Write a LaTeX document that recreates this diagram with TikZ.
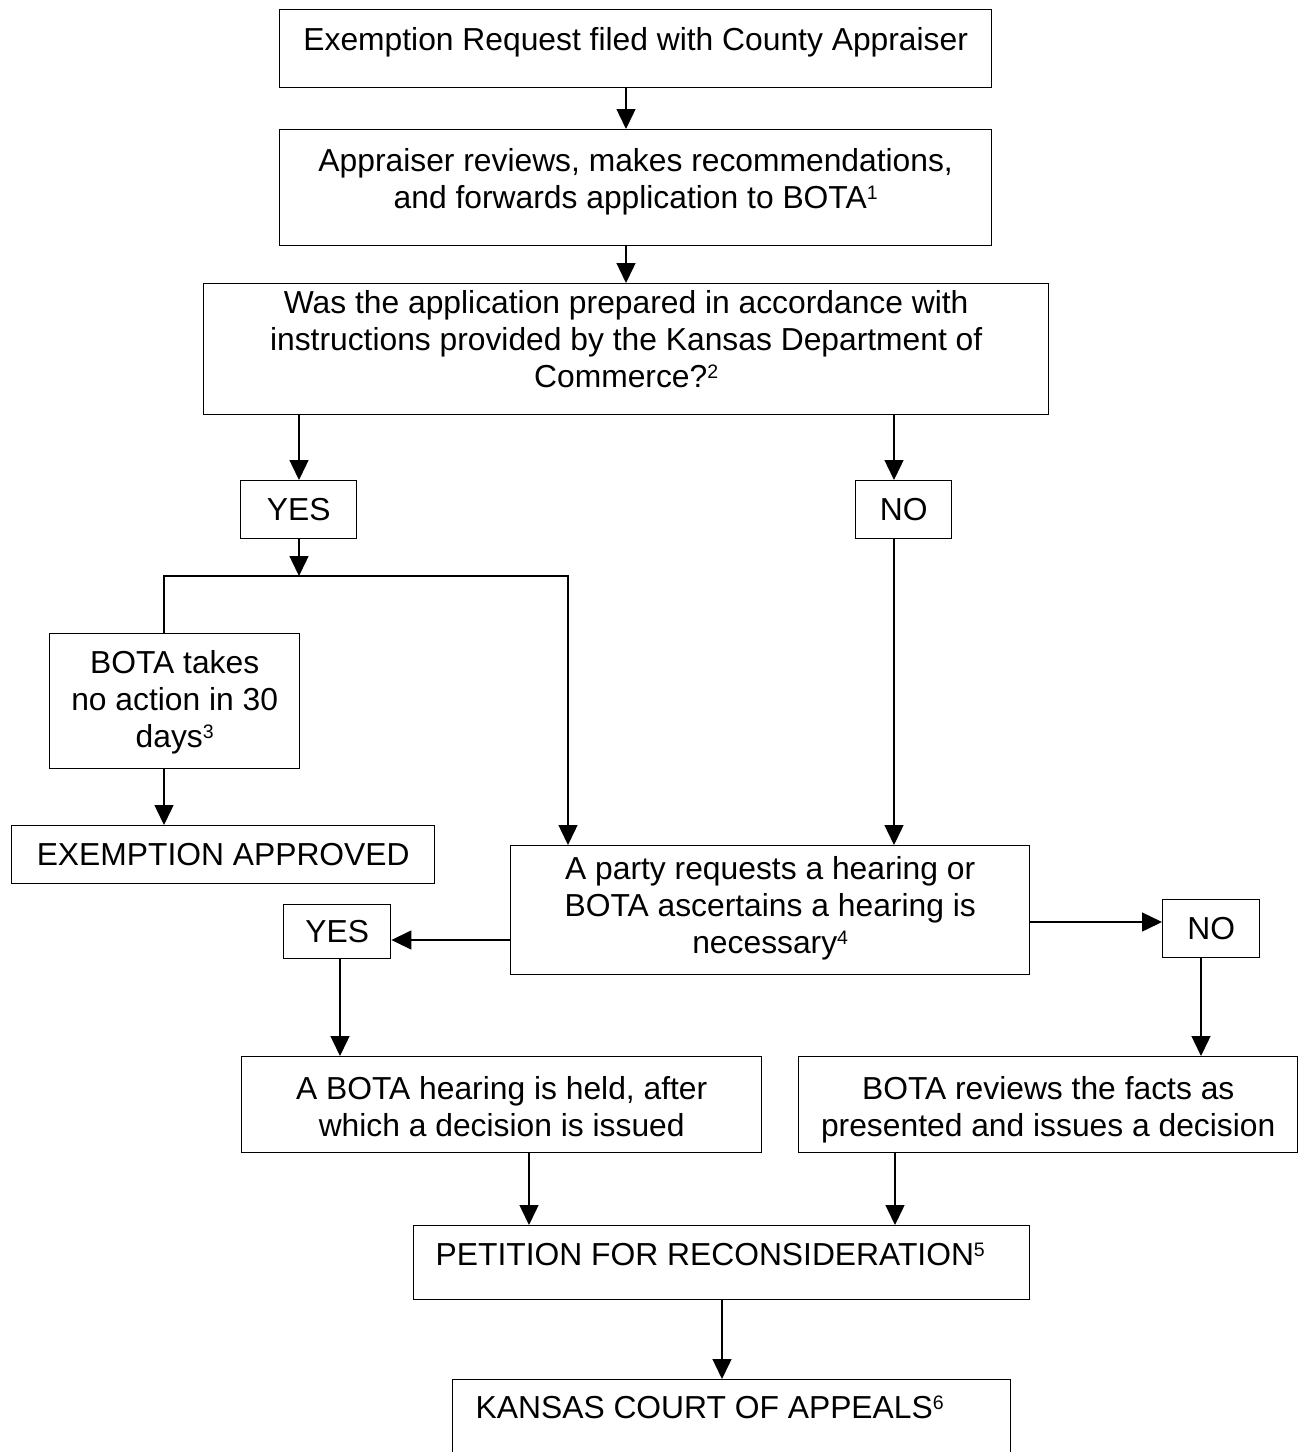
\documentclass[tikz,border=0pt]{standalone}
\usepackage{fontspec}
\setmainfont{Liberation Sans}
\usetikzlibrary{arrows.meta}
\newcommand\supnum[1]{\raisebox{9pt}{\fontsize{19.5}{19.5}\selectfont #1}}
\newcommand\ctext[2]{\parbox[t]{#1}{\centering #2}}
\newcommand\ltext[3]{\parbox[t]{#1}{\raggedright\hspace*{#2}#3}}
\begin{document}
\begin{tikzpicture}[x=1pt,y=-1pt,
  box/.style={draw, line width=1.4pt, inner sep=0pt, anchor=north west,
    font=\fontsize{31.8}{36.8}\selectfont},
  arr/.style={line width=1.4pt, -{Triangle[length=20pt,width=19pt]}},
  conn/.style={line width=1.4pt}]
\fill[white] (0,0) rectangle (1298,1452);
\clip (0,0) rectangle (1298,1452);

% boxes
\node[box, minimum width=712pt, minimum height=78pt, text height=41pt, text depth=37pt] (b1) at (279,9)
  {\ctext{700pt}{Exemption Request filed with County Appraiser}};
\node[box, minimum width=712pt, minimum height=116pt, text height=42pt, text depth=74pt] (b2) at (279,129)
  {\ctext{700pt}{Appraiser reviews, makes recommendations,\\ and forwards application to BOTA\supnum{1}}};
\node[box, minimum width=845pt, minimum height=131pt, text height=30pt, text depth=101pt] (b3) at (203,283)
  {\ctext{835pt}{Was the application prepared in accordance with\\ instructions provided by the Kansas Department of\\ Commerce?\supnum{2}}};
\node[box, minimum width=116pt, minimum height=58pt, text height=40pt, text depth=18pt] (yes1) at (240,480) {YES};
\node[box, minimum width=96pt, minimum height=58pt, text height=40pt, text depth=18pt] (no1) at (855,480) {NO};
\node[box, minimum width=250pt, minimum height=135pt, text height=40pt, text depth=95pt] (b6) at (49,633)
  {\ctext{244pt}{BOTA takes\\ no action in 30\\ days\supnum{3}}};
\node[box, minimum width=423pt, minimum height=58pt, text height=40pt, text depth=18pt] (b7) at (11,825)
  {EXEMPTION APPROVED};
\node[box, minimum width=519pt, minimum height=129pt, text height=34pt, text depth=95pt] (b8) at (510,845)
  {\ctext{510pt}{A party requests a hearing or\\ BOTA ascertains a hearing is\\ necessary\supnum{4}}};
\node[box, minimum width=107pt, minimum height=54pt, text height=38pt, text depth=16pt] (yes2) at (283,904) {YES};
\node[box, minimum width=97pt, minimum height=58pt, text height=40pt, text depth=18pt] (no2) at (1162,899) {NO};
\node[box, minimum width=520pt, minimum height=96pt, text height=43pt, text depth=53pt] (b11) at (241,1056)
  {\ctext{512pt}{A BOTA hearing is held, after\\ which a decision is issued}};
\node[box, minimum width=499pt, minimum height=96pt, text height=43pt, text depth=53pt] (b12) at (798,1056)
  {\ctext{495pt}{BOTA reviews the facts as\\ presented and issues a decision}};
\node[box, minimum width=616pt, minimum height=74pt, text height=40pt, text depth=34pt] (b13) at (413,1225)
  {\ltext{616pt}{22pt}{PETITION FOR RECONSIDERATION\supnum{5}}};
\node[box, minimum width=558pt, minimum height=101pt, text height=39pt, text depth=62pt] (b14) at (452,1379)
  {\ltext{558pt}{23pt}{KANSAS COURT OF APPEALS\supnum{6}}};

% reference coordinates for connector positions
\coordinate (xa) at (626,0);
\coordinate (xy) at (299,0);
\coordinate (xn) at (894,0);
\coordinate (jm) at (299,576);
\coordinate (jl) at (164,576);
\coordinate (jr) at (568,576);
\coordinate (ya) at (0,940);
\coordinate (yb) at (0,922);
\coordinate (xc) at (340,0);
\coordinate (xd) at (1201,0);
\coordinate (xe) at (529,0);
\coordinate (xf) at (895,0);
\coordinate (xg) at (722,0);

% connectors
\draw[arr] (b1.south -| xa) -- (b2.north -| xa);
\draw[arr] (b2.south -| xa) -- (b3.north -| xa);
\draw[arr] (b3.south -| xy) -- (yes1.north -| xy);
\draw[arr] (b3.south -| xn) -- (no1.north -| xn);
\draw[arr] (yes1.south -| jm) -- (jm);
\draw[arr] (b6.north -| jl) -- (jl) -- (jr) -- (b8.north -| jr);
\draw[arr] (no1.south -| xn) -- (b8.north -| xn);
\draw[arr] (b6.south -| jl) -- (b7.north -| jl);
\draw[arr] (b8.west |- ya) -- (yes2.east |- ya);
\draw[arr] (b8.east |- yb) -- (no2.west |- yb);
\draw[arr] (yes2.south -| xc) -- (b11.north -| xc);
\draw[arr] (no2.south -| xd) -- (b12.north -| xd);
\draw[arr] (b11.south -| xe) -- (b13.north -| xe);
\draw[arr] (b12.south -| xf) -- (b13.north -| xf);
\draw[arr] (b13.south -| xg) -- (b14.north -| xg);
\end{tikzpicture}
\end{document}
